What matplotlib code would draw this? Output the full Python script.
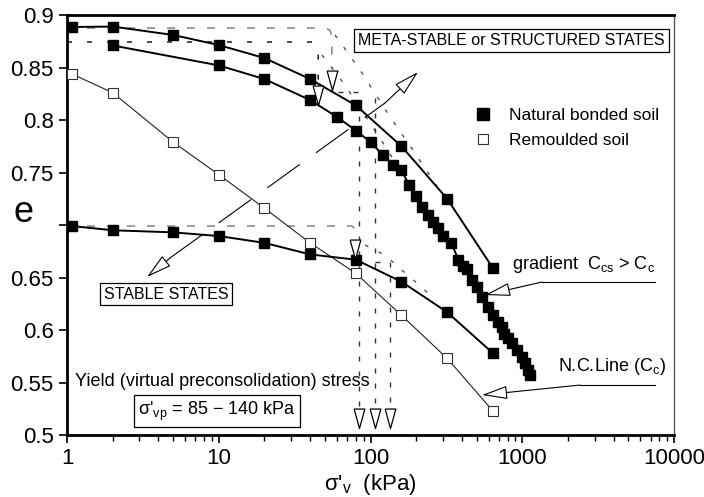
import matplotlib
matplotlib.use("Agg")
import matplotlib.pyplot as plt
from matplotlib.lines import Line2D

plt.rcParams['font.family'] = ['Liberation Sans', 'DejaVu Sans']
plt.rcParams['mathtext.fontset'] = 'custom'
plt.rcParams['mathtext.rm'] = 'Liberation Sans'
plt.rcParams['mathtext.it'] = 'Liberation Sans:italic'

# natural bonded soil, three oedometer curves
upper_x = [1.08, 2, 5, 10, 20, 40, 80, 160, 320, 640]
upper_e = [0.8886, 0.889, 0.881, 0.8714, 0.859, 0.839, 0.814, 0.775, 0.725, 0.659]

dense_x = [2, 10, 20, 40, 60, 80, 100, 120, 140, 160, 180, 200, 220, 240, 260, 280,
           300, 340, 380, 405, 430, 465, 500, 545, 595, 640, 690, 730, 760, 800, 860,
           920, 1000, 1050, 1090, 1130]
dense_e = [0.871, 0.852, 0.839, 0.819, 0.803, 0.790, 0.779, 0.767, 0.757, 0.752,
           0.738, 0.728, 0.717, 0.710, 0.703, 0.697, 0.690, 0.683, 0.667, 0.661,
           0.658, 0.648, 0.641, 0.631, 0.622, 0.614, 0.608, 0.603, 0.596, 0.592,
           0.588, 0.581, 0.574, 0.569, 0.562, 0.557]

lower_x = [1.08, 2, 5, 10, 20, 40, 80, 160, 320, 640]
lower_e = [0.699, 0.695, 0.693, 0.6895, 0.683, 0.672, 0.667, 0.646, 0.617, 0.578]

# remoulded soil
remould_x = [1.08, 2, 5, 10, 20, 40, 80, 160, 320, 640]
remould_e = [0.8438, 0.826, 0.779, 0.748, 0.716, 0.683, 0.654, 0.614, 0.573, 0.523]

# yield loci (dashed construction lines)
locus1_x = [1, 50, 54, 55.6, 55.6]
locus1_e = [0.8876, 0.8876, 0.8855, 0.880, 0.849]
locus2_x = [1, 41.2, 44, 45.2, 45.2]
locus2_e = [0.8743, 0.8743, 0.871, 0.866, 0.833]
locus3_x = [1, 75.5, 78, 79, 79]
locus3_e = [0.699, 0.699, 0.697, 0.693, 0.688]
diagA_x = [58.3, 85.3, 134.5, 190.5, 274]
diagA_e = [0.881, 0.8476, 0.8029, 0.7714, 0.7371]
diagB_x = [47.9, 67.9, 112, 156.5]
diagB_e = [0.862, 0.8333, 0.7857, 0.7524]
diagC_x = [92, 124.6, 161, 202, 247]
diagC_e = [0.681, 0.6714, 0.657, 0.6448, 0.6333]
vert1_x = [61.1, 84, 84]
vert1_e = [0.8267, 0.8267, 0.5257]
vert2_x = [107, 107]
vert2_e = [0.821, 0.5257]
vert3_x = [107, 135, 135]
vert3_e = [0.665, 0.665, 0.5257]

# open triangles (tip positions)
tri_x = [55.6, 45.2, 79, 84, 107, 135]
tri_e = [0.8286, 0.814, 0.6676, 0.5067, 0.5067, 0.5067]

fig = plt.figure(figsize=(7.04, 4.97), dpi=100)
ax = fig.add_axes([0.0952, 0.1247, 0.8622, 0.8451])
ax.set_xscale('log')
ax.set_xlim(1, 10000)
ax.set_ylim(0.5, 0.9)

ax.plot(locus1_x, locus1_e, color='#777777', lw=1.0, dashes=(5.8, 8.6))
ax.plot(locus2_x, locus2_e, color='black', lw=1.0, dashes=(3.6, 10.8))
ax.plot(locus3_x, locus3_e, color='#777777', lw=1.0, dashes=(5.8, 8.6))
for xs, es in [(diagA_x, diagA_e), (diagB_x, diagB_e), (diagC_x, diagC_e)]:
    ax.plot(xs, es, color='#444444', lw=0.9, dashes=(3, 9))
for xs, es in [(vert1_x, vert1_e), (vert2_x, vert2_e), (vert3_x, vert3_e)]:
    ax.plot(xs, es, color='#333333', lw=1.0, dashes=(3.6, 7.2))

tri = [(-0.55, 2.0), (0.55, 2.0), (0.0, 0.0), (-0.55, 2.0)]
ax.plot(tri_x, tri_e, ls='none', marker=tri, ms=28, mfc='white', mec='black',
        mew=0.9, zorder=6)

ax.plot(remould_x, remould_e, color='#222222', lw=0.8, marker='s', ms=7,
        mfc='white', mec='#333333', mew=0.8, zorder=4)
for xs, es in [(upper_x, upper_e), (dense_x, dense_e), (lower_x, lower_e)]:
    ax.plot(xs, es, color='black', lw=1.4, marker='s', ms=7.5, mfc='black',
            mec='black', zorder=5)

# long dashed double arrow between stable / meta-stable regions
ax.plot([4.77, 124.6], [0.6686, 0.8162], color='black', lw=0.8, dashes=(36, 18))
head = dict(arrowstyle='-|>,head_length=1.6,head_width=0.42', fc='white',
            ec='black', lw=0.8, shrinkA=0, shrinkB=0, mutation_scale=10)
ax.annotate('', xy=(3.37, 0.6505), xytext=(4.77, 0.6686), arrowprops=head)
ax.annotate('', xy=(205.6, 0.8457), xytext=(124.6, 0.8162), arrowprops=head)

# pointers to the curves
ax.plot([7497, 1349], [0.6457, 0.6457], color='black', lw=0.8)
ax.annotate('', xy=(568, 0.6333), xytext=(1349, 0.6457), arrowprops=head)
ax.plot([7497, 2402], [0.5476, 0.5476], color='black', lw=0.8)
ax.annotate('', xy=(543, 0.5381), xytext=(2402, 0.5476), arrowprops=head)

ax.text(856, 0.662, r'gradient  C$_{\rm cs}$ > C$_{\rm c}$', fontsize=13,
        ha='left', va='center')
ax.text(1720, 0.5648, r'N.C.Line (C$_{\rm c}$)', fontsize=13, ha='left', va='center')

box = dict(boxstyle='square,pad=0.25', fc='white', ec='black', lw=0.9)
ax.text(0.732, 0.940, 'META-STABLE or STRUCTURED STATES', transform=ax.transAxes,
        fontsize=11.5, ha='center', va='center', bbox=box)
ax.text(4.49, 0.6343, 'STABLE STATES', fontsize=11.5, ha='center', va='center', bbox=box)
ax.text(1.129, 0.5505, 'Yield (virtual preconsolidation) stress', fontsize=13,
        ha='left', va='center')
ax.text(9.73, 0.5229, r"σ$'_{\rm vp}$ = 85 − 140 kPa", fontsize=13, ha='center',
        va='center', bbox=box)

handles = [Line2D([], [], ls='none', marker='s', ms=8, mfc='black', mec='black'),
           Line2D([], [], ls='none', marker='s', ms=7, mfc='white', mec='#333333', mew=0.8)]
ax.legend(handles, ['Natural bonded soil', 'Remoulded soil'], loc='upper left',
          bbox_to_anchor=(0.645, 0.815), frameon=False, fontsize=12.5, handlelength=1.0,
          handletextpad=1.0, labelspacing=0.55)

ax.set_yticks([0.5, 0.55, 0.6, 0.65, 0.7, 0.75, 0.8, 0.85, 0.9])
ax.set_yticklabels(['0.5', '0.55', '0.6', '0.65', '', '0.75', '0.8', '0.85', '0.9'])
ax.set_xticks([1, 10, 100, 1000, 10000])
ax.set_xticklabels(['1', '10', '100', '1000', '10000'])
ax.tick_params(axis='both', which='major', labelsize=16, direction='out', length=6,
               width=1.2, top=False, right=False)
ax.tick_params(axis='x', which='minor', direction='out', length=4, width=1.0)
for s in ['left', 'bottom', 'top']:
    ax.spines[s].set_linewidth(2.0)
ax.spines['right'].set_linewidth(1.0)
ax.spines['right'].set_color('#555555')

ax.text(-0.071, 0.53, 'e', transform=ax.transAxes, fontsize=26, ha='center', va='center')
ax.set_xlabel(r"σ$'_{\rm v}$  (kPa)", fontsize=16, labelpad=2)

fig.savefig('out.png', dpi=100)
